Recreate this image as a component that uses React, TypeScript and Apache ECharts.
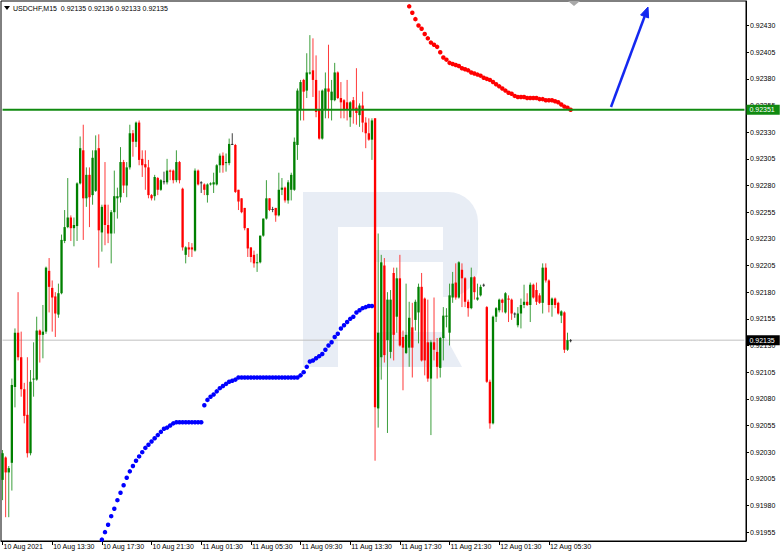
import React, { useEffect, useRef } from "react";
import * as echarts from "echarts";

// ---- data ----
const symbolTitle = "USDCHF,M15  0.92135 0.92136 0.92133 0.92135";

const xTickLabels = [
  "10 Aug 2021", "10 Aug 13:30", "10 Aug 17:30", "10 Aug 21:30", "11 Aug 01:30", "11 Aug 05:30",
  "11 Aug 09:30", "11 Aug 13:30", "11 Aug 17:30", "11 Aug 21:30", "12 Aug 01:30", "12 Aug 05:30",
];

const yTickValues = [
  0.91955, 0.9198, 0.92005, 0.9203, 0.92055, 0.9208, 0.92105, 0.9213, 0.92155, 0.9218, 0.92205,
  0.9223, 0.92255, 0.9228, 0.92305, 0.9233, 0.92355, 0.9238, 0.92405, 0.9243,
];

const opens = [
  0.92004, 0.92025, 0.92011, 0.92020, 0.92091, 0.92142, 0.92119, 0.92089, 0.92065, 0.92029,
  0.92098, 0.92098, 0.92144, 0.92140, 0.92143, 0.92200, 0.92184, 0.92176, 0.92159, 0.92179,
  0.92228, 0.92241, 0.92250, 0.92240, 0.92242, 0.92282, 0.92313, 0.92268, 0.92290, 0.92271,
  0.92275, 0.92315, 0.92236, 0.92262, 0.92243, 0.92235, 0.92255, 0.92268, 0.92269, 0.92302,
  0.92280, 0.92297, 0.92329, 0.92321, 0.92339, 0.92305, 0.92300, 0.92297, 0.92271, 0.92270,
  0.92287, 0.92276, 0.92284, 0.92283, 0.92294, 0.92294, 0.92285, 0.92302, 0.92277, 0.92215,
  0.92222, 0.92222, 0.92219, 0.92294, 0.92283, 0.92281, 0.92271, 0.92281, 0.92281, 0.92281,
  0.92299, 0.92308, 0.92301, 0.92301, 0.92319, 0.92318, 0.92276, 0.92268, 0.92259, 0.92240,
  0.92222, 0.92215, 0.92207, 0.92208, 0.92233, 0.92249, 0.92268, 0.92258, 0.92259, 0.92252,
  0.92276, 0.92278, 0.92266, 0.92276, 0.92276, 0.92318, 0.92351, 0.92379, 0.92369, 0.92385,
  0.92388, 0.92379, 0.92351, 0.92324, 0.92351, 0.92371, 0.92360, 0.92360, 0.92386, 0.92362,
  0.92360, 0.92358, 0.92344, 0.92360, 0.92353, 0.92346, 0.92355, 0.92339, 0.92329, 0.92323,
  0.92343, 0.92071, 0.92119, 0.92205, 0.92135, 0.92124, 0.92198, 0.92157, 0.92193, 0.92138,
  0.92123, 0.92128, 0.92147, 0.92154, 0.92161, 0.92185, 0.92174, 0.92133, 0.92099, 0.92133,
  0.92124, 0.92109, 0.92137, 0.92157, 0.92142, 0.92175, 0.92189, 0.92175, 0.92201, 0.92193,
  0.92171, 0.92165, 0.92194, 0.92173, 0.92177, 0.92187, 0.92166, 0.92096, 0.92057, 0.92157,
  0.92163, 0.92173, 0.92161, 0.92174, 0.92173, 0.92160, 0.92149, 0.92160, 0.92168, 0.92171,
  0.92168, 0.92187, 0.92182, 0.92177, 0.92170, 0.92203, 0.92191, 0.92168, 0.92174, 0.92170,
  0.92158, 0.92161, 0.92126, 0.92135,
];

const closes = [
  0.92029, 0.92011, 0.92015, 0.92093, 0.92142, 0.92119, 0.92089, 0.92064, 0.92029, 0.92096,
  0.92099, 0.92144, 0.92140, 0.92143, 0.92203, 0.92185, 0.92175, 0.92160, 0.92179, 0.92229,
  0.92241, 0.92250, 0.92240, 0.92243, 0.92282, 0.92315, 0.92268, 0.92290, 0.92269, 0.92306,
  0.92313, 0.92238, 0.92260, 0.92243, 0.92235, 0.92255, 0.92270, 0.92270, 0.92302, 0.92280,
  0.92297, 0.92329, 0.92321, 0.92339, 0.92304, 0.92299, 0.92297, 0.92271, 0.92268, 0.92288,
  0.92276, 0.92285, 0.92284, 0.92294, 0.92293, 0.92285, 0.92302, 0.92285, 0.92222, 0.92222,
  0.92220, 0.92220, 0.92294, 0.92281, 0.92283, 0.92276, 0.92281, 0.92282, 0.92283, 0.92299,
  0.92308, 0.92299, 0.92302, 0.92319, 0.92319, 0.92274, 0.92265, 0.92255, 0.92240, 0.92221,
  0.92213, 0.92207, 0.92208, 0.92233, 0.92249, 0.92268, 0.92257, 0.92258, 0.92252, 0.92276,
  0.92278, 0.92266, 0.92283, 0.92290, 0.92321, 0.92369, 0.92377, 0.92368, 0.92386, 0.92386,
  0.92379, 0.92349, 0.92324, 0.92369, 0.92371, 0.92368, 0.92368, 0.92386, 0.92362, 0.92358,
  0.92351, 0.92351, 0.92358, 0.92351, 0.92348, 0.92355, 0.92339, 0.92329, 0.92323, 0.92341,
  0.92072, 0.92142, 0.92208, 0.92121, 0.92173, 0.92173, 0.92140, 0.92193, 0.92130, 0.92128,
  0.92140, 0.92156, 0.92128, 0.92171, 0.92185, 0.92116, 0.92116, 0.92099, 0.92133, 0.92126,
  0.92110, 0.92137, 0.92158, 0.92158, 0.92177, 0.92188, 0.92175, 0.92208, 0.92193, 0.92171,
  0.92165, 0.92194, 0.92180, 0.92175, 0.92185, 0.92187, 0.92096, 0.92057, 0.92157, 0.92165,
  0.92173, 0.92170, 0.92179, 0.92173, 0.92160, 0.92160, 0.92160, 0.92168, 0.92171, 0.92168,
  0.92187, 0.92175, 0.92171, 0.92170, 0.92203, 0.92191, 0.92168, 0.92174, 0.92168, 0.92160,
  0.92162, 0.92126, 0.92135, 0.92135,
];

const lows = [
  0.91985, 0.91969, 0.91969, 0.91994, 0.92072, 0.92116, 0.92082, 0.92057, 0.92025, 0.92027,
  0.92082, 0.92097, 0.92114, 0.92118, 0.92141, 0.92161, 0.92143, 0.92138, 0.92156, 0.92178,
  0.92226, 0.92240, 0.92228, 0.92223, 0.92228, 0.92281, 0.92229, 0.92260, 0.92241, 0.92262,
  0.92274, 0.92203, 0.92218, 0.92224, 0.92226, 0.92207, 0.92235, 0.92249, 0.92264, 0.92273,
  0.92269, 0.92295, 0.92307, 0.92316, 0.92299, 0.92288, 0.92276, 0.92268, 0.92266, 0.92266,
  0.92271, 0.92275, 0.92281, 0.92281, 0.92285, 0.92282, 0.92283, 0.92282, 0.92219, 0.92207,
  0.92213, 0.92213, 0.92218, 0.92280, 0.92273, 0.92271, 0.92264, 0.92280, 0.92273, 0.92280,
  0.92292, 0.92292, 0.92293, 0.92299, 0.92318, 0.92273, 0.92257, 0.92254, 0.92238, 0.92213,
  0.92208, 0.92203, 0.92199, 0.92207, 0.92232, 0.92248, 0.92256, 0.92255, 0.92246, 0.92251,
  0.92271, 0.92264, 0.92263, 0.92266, 0.92275, 0.92304, 0.92341, 0.92341, 0.92362, 0.92384,
  0.92363, 0.92344, 0.92323, 0.92323, 0.92343, 0.92343, 0.92341, 0.92359, 0.92361, 0.92343,
  0.92343, 0.92341, 0.92335, 0.92338, 0.92337, 0.92335, 0.92330, 0.92315, 0.92322, 0.92304,
  0.92022, 0.92053, 0.92098, 0.92114, 0.92048, 0.92118, 0.92116, 0.92142, 0.92129, 0.92088,
  0.92122, 0.92110, 0.92100, 0.92144, 0.92132, 0.92115, 0.92102, 0.92096, 0.92046, 0.92116,
  0.92099, 0.92100, 0.92116, 0.92147, 0.92130, 0.92170, 0.92173, 0.92174, 0.92166, 0.92166,
  0.92157, 0.92164, 0.92173, 0.92172, 0.92176, 0.92185, 0.92095, 0.92052, 0.92056, 0.92152,
  0.92161, 0.92161, 0.92160, 0.92152, 0.92154, 0.92156, 0.92147, 0.92146, 0.92165, 0.92167,
  0.92152, 0.92174, 0.92168, 0.92169, 0.92160, 0.92189, 0.92161, 0.92157, 0.92165, 0.92159,
  0.92151, 0.92123, 0.92125, 0.92133,
];

const highs = [
  0.92032, 0.92026, 0.92017, 0.92099, 0.92146, 0.92180, 0.92143, 0.92095, 0.92119, 0.92107,
  0.92133, 0.92157, 0.92145, 0.92168, 0.92204, 0.92212, 0.92191, 0.92180, 0.92188, 0.92234,
  0.92257, 0.92287, 0.92252, 0.92250, 0.92283, 0.92326, 0.92337, 0.92297, 0.92297, 0.92313,
  0.92327, 0.92328, 0.92262, 0.92302, 0.92262, 0.92257, 0.92294, 0.92278, 0.92316, 0.92304,
  0.92302, 0.92337, 0.92332, 0.92340, 0.92341, 0.92313, 0.92313, 0.92304, 0.92272, 0.92290,
  0.92288, 0.92286, 0.92293, 0.92305, 0.92295, 0.92295, 0.92313, 0.92303, 0.92278, 0.92223,
  0.92227, 0.92226, 0.92296, 0.92295, 0.92284, 0.92282, 0.92282, 0.92283, 0.92292, 0.92300,
  0.92310, 0.92311, 0.92310, 0.92324, 0.92329, 0.92319, 0.92276, 0.92268, 0.92259, 0.92240,
  0.92222, 0.92219, 0.92216, 0.92233, 0.92249, 0.92285, 0.92268, 0.92260, 0.92259, 0.92292,
  0.92287, 0.92279, 0.92285, 0.92292, 0.92325, 0.92371, 0.92379, 0.92380, 0.92404, 0.92421,
  0.92418, 0.92402, 0.92369, 0.92370, 0.92386, 0.92412, 0.92379, 0.92395, 0.92387, 0.92377,
  0.92361, 0.92379, 0.92359, 0.92363, 0.92390, 0.92357, 0.92368, 0.92344, 0.92343, 0.92343,
  0.92343, 0.92235, 0.92215, 0.92212, 0.92180, 0.92182, 0.92203, 0.92203, 0.92215, 0.92144,
  0.92188, 0.92171, 0.92170, 0.92173, 0.92188, 0.92198, 0.92175, 0.92173, 0.92135, 0.92175,
  0.92137, 0.92138, 0.92166, 0.92165, 0.92188, 0.92199, 0.92207, 0.92209, 0.92207, 0.92194,
  0.92173, 0.92203, 0.92195, 0.92188, 0.92187, 0.92188, 0.92167, 0.92098, 0.92158, 0.92166,
  0.92174, 0.92174, 0.92180, 0.92177, 0.92174, 0.92161, 0.92166, 0.92174, 0.92187, 0.92179,
  0.92189, 0.92188, 0.92189, 0.92179, 0.92207, 0.92207, 0.92192, 0.92175, 0.92175, 0.92171,
  0.92163, 0.92162, 0.92142, 0.92136,
];

// Parabolic SAR dots (below price = blue, above price = red)
const blueSarStart = 32;
const blueSar = [
  0.91948, 0.91955, 0.91962, 0.91970, 0.91977, 0.91985, 0.91992, 0.91999, 0.92006, 0.92012,
  0.92017, 0.92022, 0.92026, 0.92030, 0.92034, 0.92037, 0.92040, 0.92043, 0.92046, 0.92049,
  0.92052, 0.92053, 0.92055, 0.92057, 0.92058, 0.92058, 0.92058, 0.92058, 0.92058, 0.92058,
  0.92058, 0.92058, 0.92058, 0.92074, 0.92079, 0.92082, 0.92084, 0.92087, 0.92090, 0.92092,
  0.92094, 0.92096, 0.92097, 0.92098, 0.92100, 0.92100, 0.92100, 0.92100, 0.92100, 0.92100,
  0.92100, 0.92100, 0.92100, 0.92100, 0.92100, 0.92100, 0.92100, 0.92100, 0.92100, 0.92100,
  0.92100, 0.92100, 0.92100, 0.92100, 0.92102, 0.92105, 0.92110, 0.92115, 0.92116, 0.92118,
  0.92120, 0.92122, 0.92126, 0.92130, 0.92133, 0.92138, 0.92141, 0.92146, 0.92149, 0.92152,
  0.92155, 0.92157, 0.92161, 0.92163, 0.92165, 0.92166, 0.92167, 0.92167,
];
const redSarStart = 131;
const redSar = [
  0.92448, 0.92442, 0.92436, 0.92430, 0.92427, 0.92422, 0.92418, 0.92414, 0.92412, 0.92410,
  0.92405, 0.92400, 0.92398, 0.92395, 0.92394, 0.92393, 0.92392, 0.92390, 0.92389, 0.92388,
  0.92386, 0.92385, 0.92384, 0.92383, 0.92381, 0.92380, 0.92379, 0.92377, 0.92375, 0.92373,
  0.92371, 0.92369, 0.92367, 0.92366, 0.92364, 0.92363, 0.92363, 0.92363, 0.92362, 0.92362,
  0.92362, 0.92362, 0.92361, 0.92361, 0.92360, 0.92360, 0.92360, 0.92359, 0.92358, 0.92356,
  0.92354, 0.92353, 0.92351,
];

const levelLine = 0.92351;
const bidLine = 0.92135;

const yMin = 0.919467;
const yMax = 0.92453;
const slotCount = 240; // bars + empty chart shift space
const labelEvery = 16; // 4 hours of M15 bars

const FONT = '"Liberation Sans", Arial, sans-serif';
const MONTHS = ["Jan", "Feb", "Mar", "Apr", "May", "Jun", "Jul", "Aug", "Sep", "Oct", "Nov", "Dec"];

function buildCategories() {
  const start = Date.UTC(2021, 7, 10, 9, 30);
  const out: string[] = [];
  for (let i = 0; i < slotCount; i++) {
    const d = new Date(start + i * 15 * 60000);
    const hh = String(d.getUTCHours()).padStart(2, "0");
    const mm = String(d.getUTCMinutes()).padStart(2, "0");
    out.push(`${d.getUTCDate()} ${MONTHS[d.getUTCMonth()]} ${hh}:${mm}`);
  }
  return out;
}

function hLine(name: string, value: number, color: string, width: number, boxColor: string, z: number) {
  return {
    type: "line",
    name,
    z,
    silent: true,
    symbol: "none",
    showSymbol: false,
    data: [
      [0, value],
      [slotCount - 1, value],
    ],
    lineStyle: { color, width, type: "solid" },
    endLabel: {
      show: true,
      formatter: () => value.toFixed(5),
      backgroundColor: boxColor,
      color: "#fff",
      fontSize: 7,
      fontFamily: FONT,
      padding: [2, 5, 1, 3],
      distance: 2,
      align: "left",
    },
  };
}

export default function App() {
  const ref = useRef<HTMLDivElement | null>(null);

  useEffect(() => {
    if (!ref.current) return;
    const chart = echarts.init(ref.current, null, { renderer: "svg" });
    const categories = buildCategories();
    const candleData = opens.map((o, i) => [i, o, closes[i], lows[i], highs[i]]);
    const blueData = blueSar.map((v, i) => [blueSarStart + i, v]);
    const redData = redSar.map((v, i) => [redSarStart + i, v]);

    const showTick = (idx: number) => idx % labelEvery === 0 && idx / labelEvery < xTickLabels.length;

    const wmFill = "#e8edf5";

    const option: any = {
      animation: false,
      backgroundColor: "#ffffff",
      textStyle: { fontFamily: FONT },
      grid: {
        left: 1,
        right: 36,
        top: 1,
        bottom: 17,
        show: true,
        borderColor: "#000",
        borderWidth: 1,
        backgroundColor: "transparent",
        outerBoundsMode: "none",
        containLabel: false,
      },
      xAxis: {
        type: "category",
        data: categories,
        boundaryGap: true,
        axisLine: { show: true, lineStyle: { color: "#000", width: 1 } },
        axisTick: {
          show: true,
          alignWithLabel: true,
          interval: (idx: number) => showTick(idx),
          length: 4,
          lineStyle: { color: "#000" },
        },
        axisLabel: {
          interval: (idx: number) => showTick(idx),
          formatter: (_v: string, idx: number) => (showTick(idx) ? xTickLabels[idx / labelEvery] : ""),
          fontSize: 7,
          fontFamily: FONT,
          color: "#000",
          align: "left",
          margin: 2,
          padding: [0, 0, 0, 1],
        },
        splitLine: { show: false },
      },
      yAxis: {
        type: "value",
        position: "right",
        min: yMin,
        max: yMax,
        scale: true,
        splitLine: { show: false },
        axisLine: { show: true, lineStyle: { color: "#000", width: 1 } },
        axisTick: { show: true, length: 3, customValues: yTickValues, lineStyle: { color: "#000" } },
        axisLabel: {
          customValues: yTickValues,
          formatter: (v: number) => v.toFixed(5),
          fontSize: 7,
          fontFamily: FONT,
          color: "#000",
          margin: 4,
        },
      },
      graphic: [
        // watermark logo
        { type: "rect", z: 0, shape: { x: 303, y: 192, width: 35, height: 175 }, style: { fill: wmFill } },
        { type: "rect", z: 0, shape: { x: 336, y: 192, width: 112, height: 35 }, style: { fill: wmFill } },
        { type: "rect", z: 0, shape: { x: 443, y: 192, width: 35, height: 105, r: [0, 30, 30, 0] }, style: { fill: wmFill } },
        { type: "rect", z: 0, shape: { x: 376, y: 250, width: 69, height: 12 }, style: { fill: wmFill } },
        { type: "polygon", z: 0, shape: { points: [[376, 332], [443, 332], [462, 367], [376, 367]] }, style: { fill: wmFill } },
        // header
        { type: "polygon", z: 10, shape: { points: [[4, 6], [10, 6], [7, 10]] }, style: { fill: "#000" } },
        {
          type: "text",
          z: 10,
          x: 13,
          y: 8,
          style: { text: symbolTitle, fill: "#000", font: `7px ${FONT}`, verticalAlign: "middle" },
        },
        // chart shift marker
        { type: "polygon", z: 10, shape: { points: [[568, 1], [580, 1], [574, 6]] }, style: { fill: "#a8a8a8" } },
        // arrow
        { type: "line", z: 10, shape: { x1: 611, y1: 107, x2: 644.6, y2: 16.5 }, style: { stroke: "#1428f0", lineWidth: 2.5 } },
        { type: "polygon", z: 10, shape: { points: [[648, 7], [648.6, 18], [640.6, 15]] }, style: { fill: "#1428f0", stroke: "#1428f0", lineWidth: 1 } },
      ],
      series: [
        hLine("bid", bidLine, "#c0c0c0", 1, "#000", 1),
        {
          type: "custom",
          name: "USDCHF",
          z: 3,
          data: candleData,
          encode: { x: 0, y: [1, 2, 3, 4] },
          renderItem: (_params: any, api: any) => {
            const idx = api.value(0);
            const o = api.value(1);
            const c = api.value(2);
            const l = api.value(3);
            const h = api.value(4);
            const pO = api.coord([idx, o]);
            const pC = api.coord([idx, c]);
            const pL = api.coord([idx, l]);
            const pH = api.coord([idx, h]);
            const band = api.size([1, 0])[0];
            const w = band * 0.75;
            const x = pO[0];
            const doji = c === o;
            const up = c > o;
            const body = doji ? "#2a2a2a" : up ? "#008000" : "#ff0000";
            const wick = doji ? "#404040" : up ? "#3c9e3c" : "#ff3a3a";
            const top = Math.min(pO[1], pC[1]);
            const bh = Math.max(Math.abs(pO[1] - pC[1]), 1);
            return {
              type: "group",
              children: [
                { type: "line", shape: { x1: x, y1: pH[1], x2: x, y2: pL[1] }, style: { stroke: wick, lineWidth: 1 } },
                { type: "rect", shape: { x: x - w / 2, y: top, width: w, height: bh }, style: { fill: body } },
              ],
            };
          },
        },
        hLine("level", levelLine, "#108a10", 2, "#108a10", 5),
        {
          type: "scatter",
          name: "SAR up",
          z: 4,
          symbol: "circle",
          symbolSize: 4.5,
          itemStyle: { color: "#0000ff", opacity: 1 },
          data: blueData,
        },
        {
          type: "scatter",
          name: "SAR down",
          z: 4,
          symbol: "circle",
          symbolSize: 4.5,
          itemStyle: { color: "#ff0000", opacity: 1 },
          data: redData,
        },
      ],
    };

    chart.setOption(option);
    return () => {
      chart.dispose();
    };
  }, []);

  return (
    <div
      ref={ref}
      style={{ position: "absolute", left: 0, top: 0, width: 782, height: 558, background: "#fff" }}
    />
  );
}
